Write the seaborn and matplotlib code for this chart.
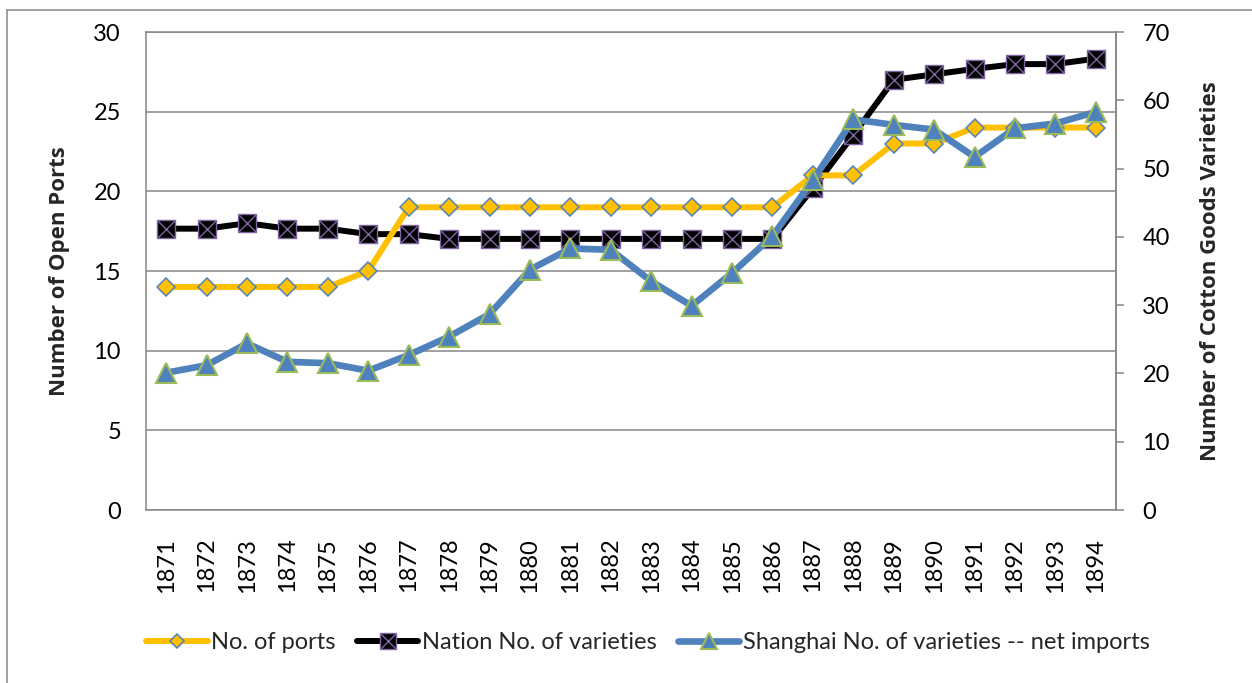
import numpy as np
import pandas as pd
import matplotlib
matplotlib.use('Agg')
import matplotlib.pyplot as plt
from matplotlib.lines import Line2D
from matplotlib.legend_handler import HandlerTuple
import seaborn as sns

# data
years = [1871, 1872, 1873, 1874, 1875, 1876, 1877, 1878, 1879, 1880, 1881, 1882,
         1883, 1884, 1885, 1886, 1887, 1888, 1889, 1890, 1891, 1892, 1893, 1894]
ports = [14, 14, 14, 14, 14, 15, 19, 19, 19, 19, 19, 19,
         19, 19, 19, 19, 21, 21, 23, 23, 24, 24, 24, 24]
nation = [41.2, 41.2, 42.0, 41.2, 41.2, 40.4, 40.4, 39.7, 39.7, 39.7, 39.7, 39.7,
          39.7, 39.7, 39.7, 39.7, 47.1, 54.9, 63.0, 63.8, 64.6, 65.3, 65.3, 66.1]
shanghai = [20.1, 21.2, 24.4, 21.7, 21.5, 20.4, 22.7, 25.4, 28.7, 35.2, 38.3, 38.1,
            33.5, 29.9, 34.7, 40.1, 48.3, 57.2, 56.4, 55.7, 51.7, 55.9, 56.6, 58.3]
left_ticks = [0, 5, 10, 15, 20, 25, 30]
right_ticks = [0, 10, 20, 30, 40, 50, 60, 70]

labels = ['No. of ports', 'Nation No. of varieties',
          'Shanghai No. of varieties -- net imports']

df = pd.DataFrame({'year': years, 'ports': ports, 'nation': nation, 'shanghai': shanghai})

sns.set_theme(style='white')
plt.rcParams['font.family'] = ['Lato', 'DejaVu Sans']

GRAY = '#868686'
YELLOW = '#FFC000'
BLUE = '#4F81BD'
GREEN = '#9BBB59'
PURPLE = '#7F64A2'
FS = 17

fig = plt.figure(figsize=(12.52, 6.83), dpi=100)
ax = fig.add_axes([0.11661, 0.25329, 0.77476, 0.69985])
ax2 = ax.twinx()   # right axis, nation
ax3 = ax.twinx()   # ports on top (left scale)
ax4 = ax.twinx()   # shanghai on top (right scale)

# left axis + grid
ax.set_xlim(1870.5, 1894.5)
ax.set_ylim(0, 30)
ax.set_yticks(left_ticks)
ax.yaxis.grid(True, color=GRAY, lw=1.1)
ax.set_axisbelow(True)
ax.set_xticks(years)
ax.set_xticklabels([str(y) for y in years], rotation=90, va='top')
ax.tick_params(axis='both', length=0, labelsize=FS, colors='black')
ax.tick_params(axis='y', pad=18)
ax.tick_params(axis='x', pad=20)
for s in ax.spines.values():
    s.set_color(GRAY)
    s.set_linewidth(1.1)
ax.set_ylabel('Number of Open Ports', fontsize=16, fontweight='bold',
              family=['Open Sans', 'DejaVu Sans'])
ax.yaxis.set_label_coords(-0.078, 0.5)

# right axis
sns.lineplot(data=df, x='year', y='nation', ax=ax2, color='black', lw=4.3,
             marker='s', markersize=13, markerfacecolor='black',
             markeredgecolor=PURPLE, markeredgewidth=1.0)
sns.scatterplot(data=df, x='year', y='nation', ax=ax2, marker='x', s=150,
                color=PURPLE, linewidth=1.0, zorder=3)
ax2.set_ylim(0, 70)
ax2.set_yticks(right_ticks)
ax2.tick_params(axis='y', length=6, width=1.1, color=GRAY, direction='out',
                pad=13, labelsize=FS, colors='black')
ax2.tick_params(axis='y', color=GRAY)
for s in ax2.spines.values():
    s.set_visible(False)
ax2.spines['right'].set_visible(True)
ax2.spines['right'].set_color(GRAY)
ax2.spines['right'].set_linewidth(1.1)
ax2.set_ylabel('Number of Cotton Goods Varieties', fontsize=16, fontweight='bold',
               family=['Open Sans', 'DejaVu Sans'])
ax2.yaxis.set_label_coords(1.087, 0.5)
ax2.set_xlabel('')

sns.lineplot(data=df, x='year', y='ports', ax=ax3, color=YELLOW, lw=4.3,
             marker='D', markersize=8.7, markerfacecolor=YELLOW,
             markeredgecolor=BLUE, markeredgewidth=1.1)
ax3.set_ylim(0, 30)
ax3.axis('off')

sns.lineplot(data=df, x='year', y='shanghai', ax=ax4, color=BLUE, lw=4.8,
             marker='^', markersize=14, markerfacecolor=BLUE,
             markeredgecolor=GREEN, markeredgewidth=1.5)
ax4.set_ylim(0, 70)
ax4.axis('off')

for a in (ax2, ax3, ax4):
    a.set_xlim(1870.5, 1894.5)
    if a.get_legend():
        a.get_legend().remove()
ax.set_xlabel('')

h_ports = ax3.get_lines()[0]
h_nat = ax2.get_lines()[0]
h_x = Line2D([], [], ls='', marker='x', color=PURPLE, markersize=13, markeredgewidth=1.0)
h_sh = ax4.get_lines()[0]
fig.legend([h_ports, (h_nat, h_x), h_sh], labels, loc='center',
           bbox_to_anchor=(0.5176, 0.0586), ncol=3, frameon=False, fontsize=FS,
           handlelength=2.6, handletextpad=0.15, columnspacing=0.9, markerscale=0.85,
           handler_map={tuple: HandlerTuple(ndivide=1)})

# outer chart frame (partly cropped)
fig.add_artist(Line2D([7 / 1252, 7 / 1252], [0, 1 - 10 / 683], color=GRAY, lw=1.1,
                      transform=fig.transFigure))
fig.add_artist(Line2D([7 / 1252, 1], [1 - 10 / 683, 1 - 10 / 683], color=GRAY, lw=1.1,
                      transform=fig.transFigure))

fig.savefig('out.png', dpi=100)
